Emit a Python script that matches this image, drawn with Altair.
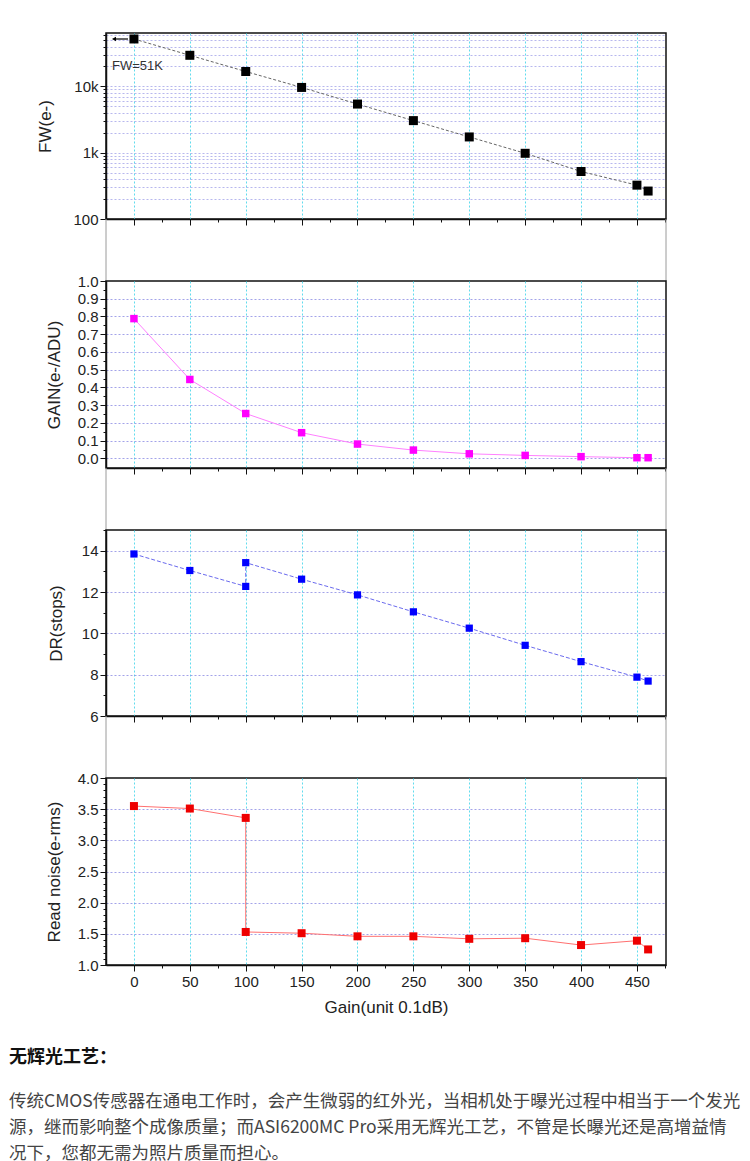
import altair as alt
import pandas as pd

# Gain setting (unit 0.1 dB)
gain = [0, 50, 100, 150, 200, 250, 300, 350, 400, 450, 460]
fw = [52000, 29500, 16800, 9660, 5420, 3050, 1730, 980, 521, 324, 264]
gain_e = [0.788, 0.445, 0.253, 0.145, 0.081, 0.047, 0.026, 0.017, 0.010, 0.004, 0.004]

# DR and read noise have two readings at gain 100 (HCG switch)
gain_2 = [0, 50, 100, 100, 150, 200, 250, 300, 350, 400, 450, 460]
dr = [13.84, 13.04, 12.27, 13.42, 12.62, 11.86, 11.04, 10.25, 9.42, 8.63, 7.88, 7.69]
read_noise = [3.55, 3.51, 3.36, 1.53, 1.51, 1.46, 1.46, 1.42, 1.43, 1.32, 1.39, 1.25]

heading = "无辉光工艺："
body = [
    "传统CMOS传感器在通电工作时，会产生微弱的红外光，当相机处于曝光过程中相当于一个发光",
    "源，继而影响整个成像质量；而ASI6200MC Pro采用无辉光工艺，不管是长曝光还是高增益情",
    "况下，您都无需为照片质量而担心。",
]

W = 560
GAP = 62
FONT = "Liberation Sans"
HGRID = "#7c7ce0"
VGRID = "#4fd8ec"

x_ticks = list(range(0, 476, 25))


def x_enc(bottom=False):
    return alt.X(
        "gain:Q",
        scale=alt.Scale(domain=[-25, 476], nice=False, zero=False),
        axis=alt.Axis(
            values=x_ticks,
            labels=bottom,
            labelExpr="datum.value % 50 === 0 ? datum.label : ''",
            title="Gain(unit 0.1dB)" if bottom else "",
            grid=True,
            gridColor=VGRID,
            gridDash=[2, 2],
            gridOpacity={"condition": {"test": "datum.value % 50 === 0", "value": 0.9}, "value": 0},
            tickSize={"condition": {"test": "datum.value % 50 === 0", "value": 6}, "value": 3},
            labelPadding=3,
            titlePadding=10,
        ),
    )


def panel(df, y, color, line_color, size, height, dash=None):
    base = alt.Chart(df).encode(x=x_enc(bottom=(y.shorthand == "rn:Q")), y=y, order="idx:O")
    line_kw = dict(color=line_color, strokeWidth=1, clip=True)
    if dash:
        line_kw["strokeDash"] = dash
    line = base.mark_line(**line_kw)
    pts = base.mark_square(color=color, size=size, opacity=1, clip=True)
    return alt.layer(line, pts).properties(width=W, height=height)


def gap():
    side = alt.Chart(alt.Data(values=[{}]))
    left = side.mark_rule(color="#9a9a9a", strokeWidth=1).encode(
        x=alt.value(0), y=alt.value(0), y2=alt.value(GAP))
    right = side.mark_rule(color="#9a9a9a", strokeWidth=1).encode(
        x=alt.value(W), y=alt.value(0), y2=alt.value(GAP))
    return alt.layer(left, right).properties(width=W, height=GAP, view=alt.ViewConfig(stroke=None))


# ---- FW panel (log)
df_fw = pd.DataFrame({"gain": gain, "fw": fw, "idx": range(len(gain))})
fw_ticks = [m * 10 ** e for e in (2, 3, 4) for m in range(1, 10)]
fw_ticks = [v for v in fw_ticks if v <= 64000]
y_fw = alt.Y(
    "fw:Q",
    scale=alt.Scale(type="log", domain=[100, 64000], nice=False),
    axis=alt.Axis(
        values=fw_ticks,
        labelExpr="datum.value === 100 ? '100' : datum.value === 1000 ? '1k' : datum.value === 10000 ? '10k' : ''",
        title="FW(e-)",
        titlePadding=18,
        grid=True,
        gridColor=HGRID,
        gridDash=[2, 2],
        gridOpacity={"condition": {"test": "datum.value === 100", "value": 0}, "value": 0.55},
        tickSize={"condition": {"test": "datum.value === 100 || datum.value === 1000 || datum.value === 10000",
                                "value": 6}, "value": 3},
    ),
)
p1 = panel(df_fw, y_fw, "#000000", "#666666", 81, 186, dash=[3, 2])

note = alt.Chart(alt.Data(values=[{}]))
fw_text = note.mark_text(text="FW=51K", font=FONT, fontSize=13, color="#333333", align="left",
                         baseline="middle").encode(x=alt.value(6), y=alt.value(33))
arrow_line = note.mark_rule(color="#000000", strokeWidth=1.2).encode(
    x=alt.value(9), x2=alt.value(22), y=alt.value(6))
arrow_head = note.mark_point(shape="triangle-left", filled=True, color="#000000", size=22, opacity=1).encode(
    x=alt.value(8), y=alt.value(6))
p1 = alt.layer(p1, fw_text, arrow_line, arrow_head)

# ---- GAIN panel
df_g = pd.DataFrame({"gain": gain, "ge": gain_e, "idx": range(len(gain))})
g_ticks = [round(i * 0.05, 2) for i in range(21)]
major_g = "abs(datum.value * 10 - round(datum.value * 10)) < 0.001"
y_g = alt.Y(
    "ge:Q",
    scale=alt.Scale(domain=[-0.054, 1.0], nice=False, zero=False),
    axis=alt.Axis(
        values=g_ticks,
        labelExpr=major_g + " ? format(datum.value, '.1f') : ''",
        title="GAIN(e-/ADU)",
        grid=True,
        gridColor=HGRID,
        gridDash=[2, 2],
        gridOpacity={"condition": {"test": major_g + " && datum.value < 0.99", "value": 0.7}, "value": 0},
        tickSize={"condition": {"test": major_g, "value": 6}, "value": 3},
    ),
)
p2 = panel(df_g, y_g, "#ff00ff", "#ff80ff", 56, 187)

# ---- DR panel
df_dr = pd.DataFrame({"gain": gain_2, "dr": dr, "idx": range(len(gain_2))})
y_dr = alt.Y(
    "dr:Q",
    scale=alt.Scale(domain=[6, 15], nice=False, zero=False),
    axis=alt.Axis(
        values=list(range(6, 16)),
        labelExpr="datum.value % 2 === 0 ? datum.label : ''",
        title="DR(stops)",
        titlePadding=16,
        grid=True,
        gridColor=HGRID,
        gridDash=[2, 2],
        gridOpacity={"condition": {"test": "datum.value % 2 === 0 && datum.value > 6", "value": 0.7}, "value": 0},
        tickSize={"condition": {"test": "datum.value % 2 === 0", "value": 6}, "value": 3},
    ),
)
p3 = panel(df_dr, y_dr, "#0000ff", "#6a6aee", 52, 186, dash=[4, 2])

# ---- Read noise panel
df_rn = pd.DataFrame({"gain": gain_2, "rn": read_noise, "idx": range(len(gain_2))})
rn_ticks = [round(1 + i * 0.1, 1) for i in range(31)]
major_rn = "abs(datum.value * 2 - round(datum.value * 2)) < 0.001"
y_rn = alt.Y(
    "rn:Q",
    scale=alt.Scale(domain=[1, 4], nice=False, zero=False),
    axis=alt.Axis(
        values=rn_ticks,
        labelExpr=major_rn + " ? format(datum.value, '.1f') : ''",
        title="Read noise(e-rms)",
        grid=True,
        gridColor=HGRID,
        gridDash=[2, 2],
        gridOpacity={"condition": {"test": major_rn + " && datum.value > 1.01 && datum.value < 3.99",
                                   "value": 0.7}, "value": 0},
        tickSize={"condition": {"test": major_rn, "value": 6}, "value": 3},
    ),
)
p4 = panel(df_rn, y_rn, "#ee0000", "#ff7070", 64, 187)

txt = alt.Chart(alt.Data(values=[{}]))
layers = [p4, txt.mark_text(text=heading, font="Noto Sans CJK SC", fontSize=18, fontWeight="bold",
                            color="#111111", align="left", baseline="middle").encode(
    x=alt.value(-97), y=alt.value(280))]
for i, line_txt in enumerate(body):
    layers.append(txt.mark_text(text=line_txt, font="Noto Sans CJK SC", fontSize=17.5, color="#444444",
                                align="left", baseline="middle").encode(
        x=alt.value(-97), y=alt.value(324 + i * 26)))
p4 = alt.layer(*layers)

chart = alt.vconcat(p1, gap(), p2, gap(), p3, gap(), p4, spacing=0, bounds="flush").properties(
    padding={"left": 0, "top": 24, "right": 0, "bottom": 0}
).configure_view(
    stroke="#111111", strokeWidth=1.5
).configure_axis(
    labelFont=FONT, labelFontSize=15, labelColor="#222222",
    titleFont=FONT, titleFontSize=17, titleFontWeight="normal", titleColor="#222222",
    titlePadding=14,
    domainColor="#111111", domainWidth=1.5, tickColor="#111111", tickWidth=1,
)

chart.save("out.html", embed_options={"renderer": "svg", "actions": False})
